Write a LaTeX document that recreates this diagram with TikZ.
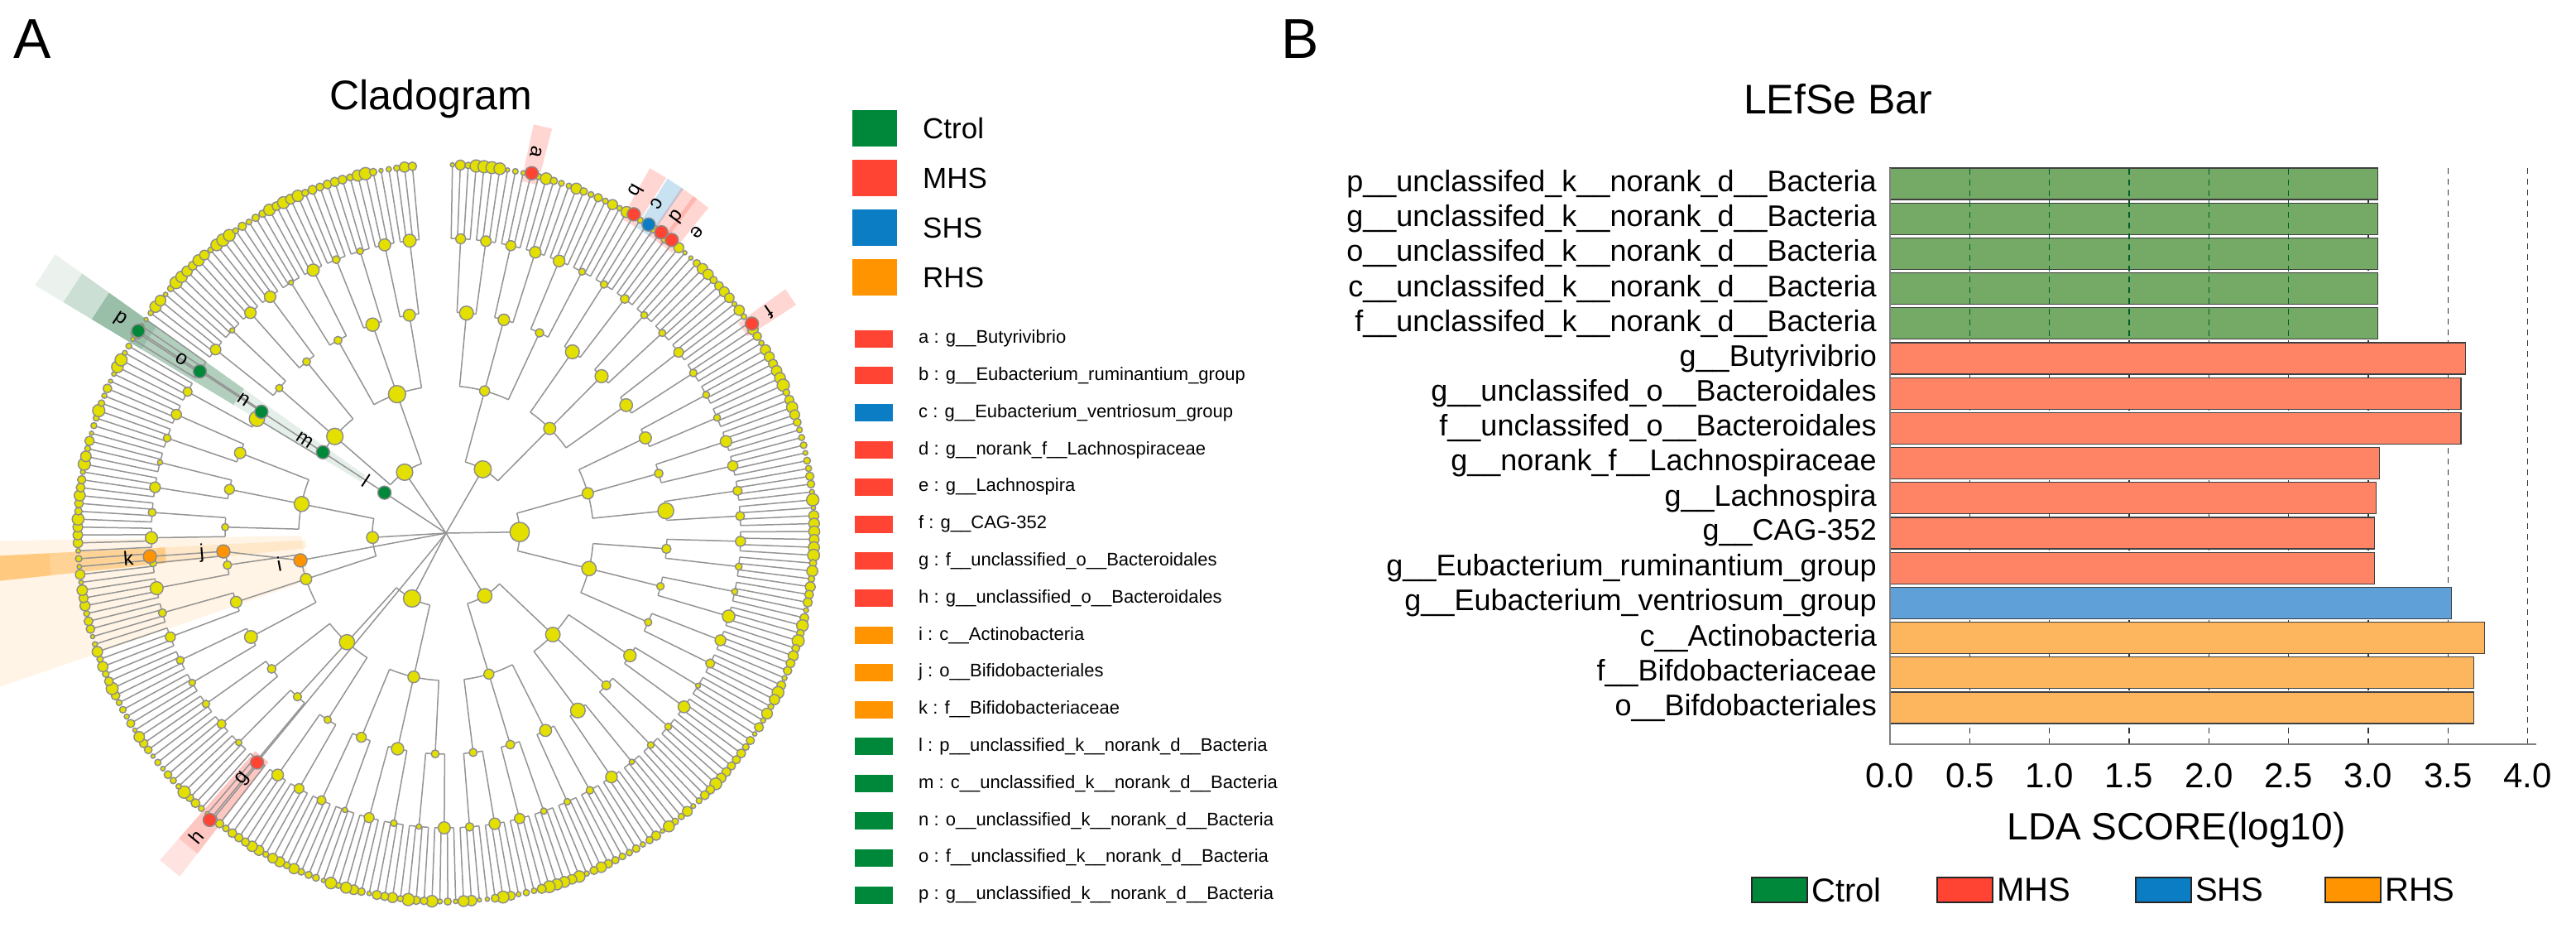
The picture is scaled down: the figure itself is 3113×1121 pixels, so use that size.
\documentclass[tikz,border=0pt]{standalone}
\usepackage{fontspec}
\setmainfont{Liberation Sans}
\usetikzlibrary{calc}
\definecolor{cG}{HTML}{00883A}
\definecolor{cR}{HTML}{FF4433}
\definecolor{cB}{HTML}{0A7DC4}
\definecolor{cO}{HTML}{FF9400}
\definecolor{bG}{HTML}{74A966}
\definecolor{bR}{HTML}{FF8466}
\definecolor{bB}{HTML}{5FA0D8}
\definecolor{bO}{HTML}{FDB65E}
\definecolor{yel}{HTML}{E3E000}
\newcommand\mywedge[5]{\fill[#5] (#1-#2:#3) -- (#1-#2:#4) -- (#1+#2:#4) -- (#1+#2:#3) -- cycle;}
\begin{document}
\begin{tikzpicture}[x=1pt,y=1pt,
  br/.style={draw=black!42,line width=1.5pt},
  dot/.style={fill=yel,draw=black!45,line width=1.4pt},
  hl/.style={draw=black!45,line width=1.4pt},
  lab/.style={font=\fontsize{24}{26}\selectfont,inner sep=0pt},
  big/.style={font=\fontsize{68}{70}\selectfont,inner sep=0pt,anchor=north west},
  leg/.style={font=\fontsize{35}{38}\selectfont,anchor=west,inner sep=0pt},
  sleg/.style={font=\fontsize{22}{24}\selectfont,anchor=west,inner sep=0pt},
  blab/.style={font=\fontsize{36}{38}\selectfont,anchor=east,inner sep=0pt},
  bar/.style={draw=black!75,line width=1.2pt},
  tick/.style={font=\fontsize{42}{44}\selectfont,inner sep=0pt}]
\useasboundingbox (0,0) rectangle (3113,-1121);
\node[big] (A) at (16,-24) {A};
\node[big] (B) at (1548,-24) {B};
\node[font=\fontsize{50}{52}\selectfont,anchor=base] (ct) at (521,-132) {Cladogram};
% ---------------- cladogram -----------------
\begin{scope}[shift={(539,-644)}]
\fill[cO,opacity=0.10] (181:175) -- (181:700) -- (199:700) -- (199:175) -- cycle;
\mywedge{184.5}{1.6}{170}{350}{cO,opacity=0.12}
\mywedge{184.5}{1.6}{340}{560}{cO,opacity=0.35}
\mywedge{184.5}{1.6}{480}{560}{cO,opacity=0.15}
\mywedge{146.7}{2.2}{120}{300}{cG!70!black,opacity=0.10}
\mywedge{146.7}{2.2}{300}{430}{cG!70!black,opacity=0.30}
\mywedge{146.7}{2.2}{430}{500}{cG!70!black,opacity=0.40}
\mywedge{146.7}{2.2}{500}{540}{cG!70!black,opacity=0.20}
\mywedge{146.7}{2.2}{540}{580}{cG!70!black,opacity=0.08}
\mywedge{230.5}{1.7}{350}{490}{cR,opacity=0.30}
\mywedge{230.5}{1.7}{490}{525}{cR,opacity=0.15}
\foreach \t in {76.6,59.5,54.4,52.4,34.4}{\mywedge{\t}{1.3}{435}{505}{cR,opacity=0.22}}
\mywedge{56.7}{1.3}{435}{505}{cB,opacity=0.22}
% branches
\foreach \g/\r/\gp/\rp in {48/89/288/0,24/178/48/89,8/267/24/178,4/356/8/267,1/445/4/356}{
  \pgfmathtruncatemacro\n{288/\g-1}
  \foreach \k in {0,...,\n}{
    \pgfmathsetmacro\a{-(271+(\k*\g+(\g-1)/2)*1.2326)}
    \draw[br] (\a:\rp) -- (\a:\r);
  }
  \ifnum\rp>0
    \pgfmathtruncatemacro\np{288/\gp-1}
    \foreach \p in {0,...,\np}{
      \pgfmathsetmacro\aa{-(271+(\p*\gp+(\g-1)/2)*1.2326)}
      \pgfmathsetmacro\ab{\aa-(\gp-\g)*1.2326}
      \draw[br] (\aa:\rp) arc[start angle=\aa,end angle=\ab,radius=\rp pt];
    }
  \fi
}
\draw[br] (0,0) -- (146.7:445);
\draw[br] (0,0) -- (190.6:179) -- (184.7:270) -- (184.5:359);
\draw[br] (0,0) -- (230.5:449);
% dots
\pgfmathsetseed{11}
\foreach \g/\r/\smin/\sv in {48/89/7/5,24/178/5/6,8/267/4/6,4/356/3/5,1/445/2.5/5}{
  \pgfmathtruncatemacro\n{288/\g-1}
  \foreach \k in {0,...,\n}{
    \pgfmathsetmacro\a{-(271+(\k*\g+(\g-1)/2)*1.2326)}
    \pgfmathsetmacro\s{\smin+\sv*rnd}
    \draw[dot] (\a:\r) circle[radius=\s pt];
  }
}
% highlighted nodes
\foreach \nm/\t/\r/\c/\lt in {l/146.7/89/cG/146.7,m/146.7/178/cG/146.7,n/146.7/267/cG/146.7,o/146.7/356/cG/146.7,p/146.7/445/cG/146.7,
  i/190.6/179/cO/190.6,j/184.7/270/cO/184.7,k/184.5/359/cO/184.5,g/230.5/359/cR/230.5,h/230.5/449/cR/230.5,
  a/76.6/447/cR/76.6,b/59.5/447/cR/61,c/56.7/446/cB/57.4,d/54.4/447/cR/53.8,e/52.4/447/cR/50.2,f/34.4/448/cR/34.4}{
  \draw[hl,fill=\c] (\t:\r) circle[radius=8pt];
  \pgfmathsetmacro\rr{\r+26}
  \pgfmathsetmacro\ro{\lt-180}
  \node[lab,rotate=\ro] (L\nm) at (\lt:\rr) {\nm};
}
\end{scope}
% ---------------- legend A -----------------
\foreach \nm/\c/\y/\tx in {lc/cG/155/Ctrol,lm/cR/215/MHS,ls/cB/275/SHS,lr/cO/335/RHS}{
  \fill[\c] (1030,-\y+22) rectangle (1084,-\y-22);
  \node[leg] (\nm) at (1115,-\y) {\tx};
}
\foreach \i/\c/\tx in {0/cR/{a : g\_\_Butyrivibrio},1/cR/{b : g\_\_Eubacterium\_ruminantium\_group},
 2/cB/{c : g\_\_Eubacterium\_ventriosum\_group},3/cR/{d : g\_\_norank\_f\_\_Lachnospiraceae},
 4/cR/{e : g\_\_Lachnospira},5/cR/{f : g\_\_CAG-352},6/cR/{g : f\_\_unclassified\_o\_\_Bacteroidales},
 7/cR/{h : g\_\_unclassified\_o\_\_Bacteroidales},8/cO/{i : c\_\_Actinobacteria},
 9/cO/{j : o\_\_Bifidobacteriales},10/cO/{k : f\_\_Bifidobacteriaceae},
 11/cG/{l : p\_\_unclassified\_k\_\_norank\_d\_\_Bacteria},12/cG/{m : c\_\_unclassified\_k\_\_norank\_d\_\_Bacteria},
 13/cG/{n : o\_\_unclassified\_k\_\_norank\_d\_\_Bacteria},14/cG/{o : f\_\_unclassified\_k\_\_norank\_d\_\_Bacteria},
 15/cG/{p : g\_\_unclassified\_k\_\_norank\_d\_\_Bacteria}}{
  \pgfmathsetmacro\y{409+44.8*\i}
  \fill[\c] (1033,-\y+10.5) rectangle (1079,-\y-10.5);
  \node[sleg] (s\i) at (1110,-\y) {\tx};
}
% ---------------- LEfSe bar -----------------
\node[font=\fontsize{50}{52}\selectfont,anchor=base] (bt) at (2221,-138) {LEfSe Bar};
\foreach \v in {0.5,1.0,...,4.0}{
  \draw[black!80,line width=1.3pt,dash pattern=on 7pt off 6pt] (2284+192.7*\v,-203) -- (2284+192.7*\v,-899);
}
\foreach \i/\v/\c/\tx in {0/3.06/bG/{p\_\_unclassifed\_k\_\_norank\_d\_\_Bacteria},1/3.06/bG/{g\_\_unclassifed\_k\_\_norank\_d\_\_Bacteria},
 2/3.06/bG/{o\_\_unclassifed\_k\_\_norank\_d\_\_Bacteria},3/3.06/bG/{c\_\_unclassifed\_k\_\_norank\_d\_\_Bacteria},
 4/3.06/bG/{f\_\_unclassifed\_k\_\_norank\_d\_\_Bacteria},5/3.61/bR/{g\_\_Butyrivibrio},
 6/3.58/bR/{g\_\_unclassifed\_o\_\_Bacteroidales},7/3.58/bR/{f\_\_unclassifed\_o\_\_Bacteroidales},
 8/3.07/bR/{g\_\_norank\_f\_\_Lachnospiraceae},9/3.05/bR/{g\_\_Lachnospira},10/3.04/bR/{g\_\_CAG-352},
 11/3.04/bR/{g\_\_Eubacterium\_ruminantium\_group},12/3.52/bB/{g\_\_Eubacterium\_ventriosum\_group},
 13/3.73/bO/{c\_\_Actinobacteria},14/3.66/bO/{f\_\_Bifdobacteriaceae},15/3.66/bO/{o\_\_Bifdobacteriales}}{
  \pgfmathsetmacro\yt{203+42.2*\i}
  \draw[bar,fill=\c] (2284,-\yt) rectangle (2284+192.7*\v,-\yt-38);
  \node[blab] (r\i) at (2268,-\yt-19) {\tx};
}
\foreach \v in {0.5,1.0,...,2.5}{
  \draw[cG!70!black,line width=1.3pt,dash pattern=on 7pt off 6pt] (2284+192.7*\v,-204) -- (2284+192.7*\v,-412);
}
\draw[black!50,line width=1.5pt] (2284,-203) -- (2284,-899) -- (3065,-899);
\foreach \v in {0.0,0.5,1.0,1.5,2.0,2.5,3.0,3.5,4.0}{
  \node[tick] (t\v) at (2284+192.7*\v,-937) {\v};
}
\node[font=\fontsize{46}{48}\selectfont,inner sep=0pt] (xl) at (2630,-1003) {LDA SCORE(log10)};
\foreach \nm/\c/\xa/\tx in {bc/cG/2117/Ctrol,bm/cR/2341/MHS,bs/cB/2581/SHS,br/cO/2810/RHS}{
  \draw[fill=\c,draw=black!85,line width=2pt] (\xa,-1060) rectangle (\xa+67,-1090);
  \node[font=\fontsize{40}{42}\selectfont,anchor=west,inner sep=0pt] (\nm) at (\xa+72,-1075) {\tx};
}
\end{tikzpicture}
\end{document}
